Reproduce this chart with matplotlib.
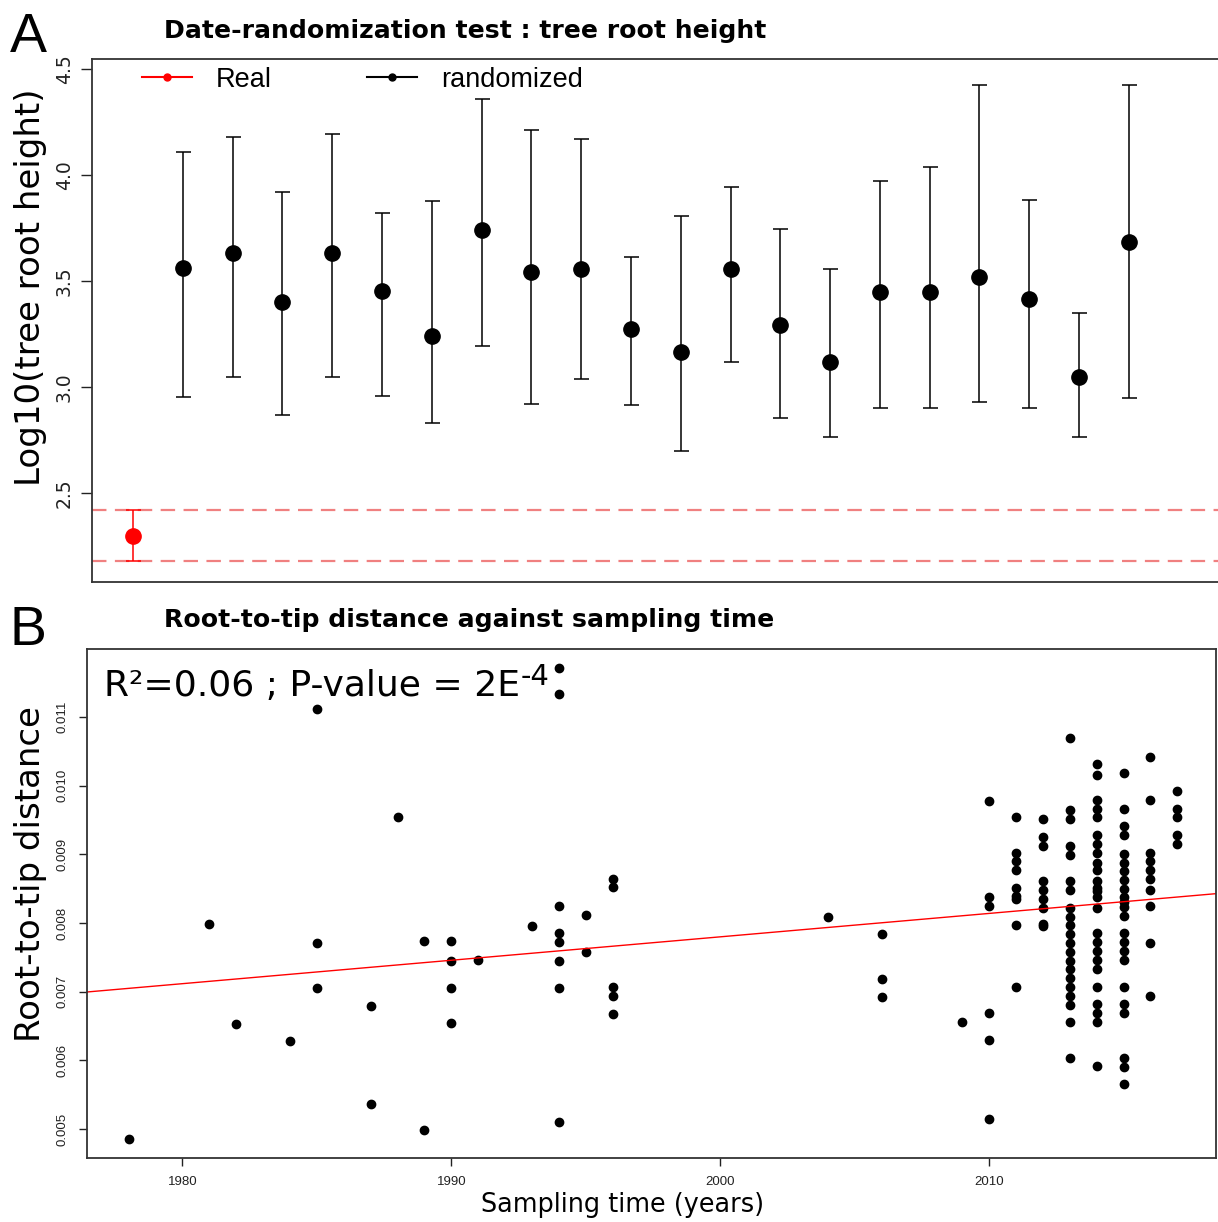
import numpy as np
import matplotlib.pyplot as plt
from matplotlib.lines import Line2D

# ---- panel A: date-randomization test (log10 tree root height) ----
real_mean = 2.295
real_upper = 2.418
real_lower = 2.177

rand_mean = [3.563, 3.633, 3.401, 3.630, 3.450, 3.239, 3.742, 3.542, 3.557, 3.275,
             3.165, 3.557, 3.291, 3.119, 3.448, 3.446, 3.517, 3.415, 3.045, 3.684]
rand_upper = [4.107, 4.177, 3.918, 4.193, 3.821, 3.875, 4.360, 4.210, 4.168, 3.611,
              3.808, 3.942, 3.743, 3.558, 3.973, 4.036, 4.423, 3.880, 3.349, 4.423]
rand_lower = [2.954, 3.045, 2.865, 3.045, 2.956, 2.830, 3.195, 2.918, 3.036, 2.913,
              2.696, 3.119, 2.853, 2.762, 2.902, 2.900, 2.929, 2.902, 2.761, 2.948]

# ---- panel B: root-to-tip distance vs sampling year ----
sample_year = (
    [1978, 1981, 1982, 1984]
    + [1985] * 3 + [1987] * 2 + [1988] + [1989] * 2 + [1990] * 4 + [1991] + [1993]
    + [1994] * 8 + [1995] * 2 + [1996] * 5 + [2004] + [2006] * 3 + [2009]
    + [2010] * 6 + [2011] * 9 + [2012] * 9 + [2013] * 21 + [2014] * 25
    + [2015] * 23 + [2016] * 10 + [2017] * 5
)
rtt_distance = (
    [0.004856, 0.00799, 0.006536, 0.006287]
    + [0.011115, 0.007709, 0.007055]
    + [0.0068, 0.005365]
    + [0.009539]
    + [0.007732, 0.004987]
    + [0.007737, 0.007443, 0.007061, 0.006546]
    + [0.007467]
    + [0.007962]
    + [0.011712, 0.011333, 0.008247, 0.007859, 0.007726, 0.007443, 0.007055, 0.005111]
    + [0.008119, 0.007575]
    + [0.008645, 0.00852, 0.007066, 0.006933, 0.006678]
    + [0.00809]
    + [0.00784, 0.007188, 0.006923]
    + [0.006554]
    # 2010
    + [0.00978, 0.008374, 0.008247, 0.006685, 0.006297, 0.005143]
    # 2011
    + [0.009538, 0.009023, 0.008898, 0.008771, 0.008514, 0.0084, 0.00835, 0.007971, 0.007073]
    # 2012
    + [0.009509, 0.009256, 0.009125, 0.008611, 0.00848, 0.008349, 0.008218, 0.007981, 0.007956]
    # 2013
    + [0.010688, 0.009645, 0.009518, 0.009125, 0.008995, 0.008611, 0.00848, 0.008223,
       0.008092, 0.007971, 0.00784, 0.007709, 0.007583, 0.007451, 0.007326, 0.007195,
       0.007068, 0.006937, 0.006811, 0.006554, 0.006039]
    # 2014
    + [0.010314, 0.010159, 0.009795, 0.009664, 0.009538, 0.009281, 0.00915, 0.009023,
       0.008869, 0.008767, 0.008607, 0.008505, 0.00847, 0.008383, 0.008218, 0.00785,
       0.007719, 0.007588, 0.007461, 0.007326, 0.007073, 0.006817, 0.006685, 0.006559,
       0.005918]
    # 2015
    + [0.010179, 0.009664, 0.009407, 0.009281, 0.009, 0.008878, 0.008757, 0.008626,
       0.008495, 0.008383, 0.00831, 0.008237, 0.008102, 0.00785, 0.007719, 0.007588,
       0.007461, 0.007073, 0.006817, 0.006685, 0.006039, 0.005908, 0.005652]
    # 2016
    + [0.010421, 0.009795, 0.009023, 0.008898, 0.008767, 0.00864, 0.008485, 0.008252,
       0.007713, 0.006937]
    # 2017
    + [0.009921, 0.009664, 0.009538, 0.009281, 0.00915]
)
year_ticks = [1980, 1990, 2000, 2010]
dist_ticks = [0.005, 0.006, 0.007, 0.008, 0.009, 0.010, 0.011]

W, H = 1218, 1222
fig = plt.figure(figsize=(W / 100, H / 100), dpi=100)

spine_col = "#333333"

# ------------------------------ panel A
axA = fig.add_axes([92 / W, 1 - 582 / H, (W - 92) / W, (582 - 59) / H])
dash_col = "#F08080"
axA.axhline(real_upper, color=dash_col, lw=1.6, dashes=(6.5, 3.8))
axA.axhline(real_lower, color=dash_col, lw=1.6, dashes=(6.5, 3.8))

axA.errorbar([1], [real_mean], yerr=[[real_mean - real_lower], [real_upper - real_mean]],
             fmt="o", color="red", ms=11, capsize=5.4, elinewidth=1.1, capthick=1.1)
x_rand = np.arange(2, 2 + len(rand_mean))
rm = np.array(rand_mean)
axA.errorbar(x_rand, rm, yerr=[rm - np.array(rand_lower), np.array(rand_upper) - rm],
             fmt="o", color="black", ms=11, capsize=5.4, elinewidth=1.1, capthick=1.1)

axA.set_xlim(0.177, 22.79)
axA.set_ylim(2.079, 4.547)
axA.set_xticks([])
axA.set_yticks([2.5, 3.0, 3.5, 4.0, 4.5])
axA.set_yticklabels(["2.5", "3.0", "3.5", "4.0", "4.5"])
axA.tick_params(axis="y", direction="out", length=8, width=1, labelsize=13.5, pad=5, colors="#222222")
plt.setp(axA.get_yticklabels(), rotation=90, va="center")
axA.spines["right"].set_visible(False)
for s in ["left", "top", "bottom"]:
    axA.spines[s].set_color(spine_col)
    axA.spines[s].set_linewidth(1.3)

handles = [Line2D([0], [0], color="red", marker="o", ms=5),
           Line2D([0], [0], color="black", marker="o", ms=5)]
axA.legend(handles, ["Real", "randomized"], loc="upper left", bbox_to_anchor=(0.044, 0.985),
           ncol=2, frameon=False, borderaxespad=0, borderpad=0, handlelength=1.85,
           handletextpad=0.9, columnspacing=3.5, prop={"family": "Liberation Sans", "size": 19.5})

fig.text(31 / W, 1 - 287 / H, "Log10(tree root height)", rotation=90, ha="center", va="center",
         fontsize=24.5)
fig.text(164 / W, 1 - 38 / H, "Date-randomization test : tree root height", fontweight="bold",
         fontsize=18.1, va="baseline")
fig.text(10 / W, 1 - 52 / H, "A", fontsize=40, family="Liberation Sans", va="baseline")

# ------------------------------ panel B
axB = fig.add_axes([87 / W, 1 - 1158 / H, 1129 / W, 509 / H])
axB.plot(sample_year, rtt_distance, "o", color="black", ms=6, mec="black")
slope, intercept = np.polyfit(sample_year, rtt_distance, 1)
axB.axline((2000, slope * 2000 + intercept), slope=slope, color="red", lw=1)

axB.set_xlim(1976.45, 2018.44)
axB.set_ylim(0.00458, 0.01199)
axB.set_xticks(year_ticks)
axB.set_xticklabels([str(y) for y in year_ticks], family="Liberation Sans")
axB.set_yticks(dist_ticks)
axB.set_yticklabels(["%.3f" % d for d in dist_ticks], family="Liberation Sans")
axB.tick_params(direction="out", length=6, width=1, labelsize=9.5, colors="#222222")
axB.tick_params(axis="x", pad=7)
axB.tick_params(axis="y", pad=7)
plt.setp(axB.get_yticklabels(), rotation=90, va="center")
for s in axB.spines.values():
    s.set_color(spine_col)
    s.set_linewidth(1.3)

fig.text(623 / W, 1 - 1212 / H, "Sampling time (years)", fontsize=18.4, ha="center", va="baseline")
fig.text(31 / W, 1 - 874 / H, "Root-to-tip distance", rotation=90, ha="center", va="center",
         fontsize=24.5)
fig.text(164 / W, 1 - 627 / H, "Root-to-tip distance against sampling time", fontweight="bold",
         fontsize=18.1, va="baseline")
fig.text(10 / W, 1 - 645 / H, "B", fontsize=40, family="Liberation Sans", va="baseline")
stat = fig.text(104 / W, 1 - 696 / H, "R²=0.06 ; P-value = 2E", fontsize=26, va="baseline")
axB.annotate("-4", xy=(1, 0), xycoords=stat, xytext=(1, 18), textcoords="offset pixels",
             fontsize=21, va="baseline", ha="left")

fig.savefig("out.png", dpi=100)
